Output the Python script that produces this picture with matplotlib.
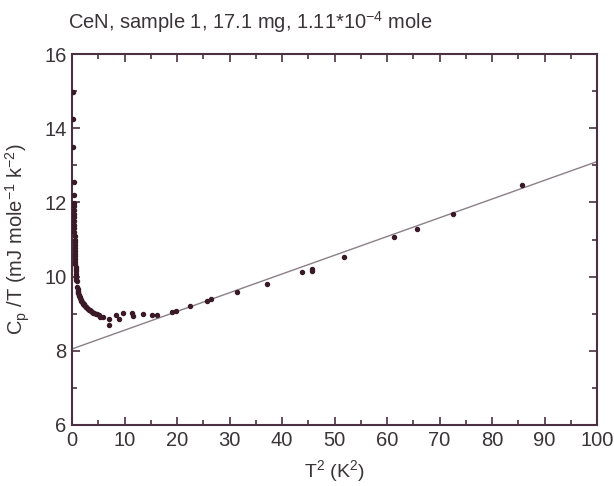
import matplotlib
matplotlib.use("Agg")
import matplotlib.pyplot as plt
from matplotlib.ticker import MultipleLocator
import numpy as np

plt.rcParams['font.family'] = ['Liberation Sans', 'DejaVu Sans']
plt.rcParams['mathtext.default'] = 'regular'

# Data: T^2 (K^2) and Cp/T (mJ mole^-1 K^-2)
t2_low = [0.12, 0.20, 0.25, 0.30, 0.33, 0.35, 0.37, 0.38, 0.40, 0.41, 0.42, 0.44, 0.45,
          0.46, 0.48, 0.50, 0.51, 0.53, 0.55, 0.56, 0.58, 0.60, 0.62, 0.64, 0.66, 0.68,
          0.70, 0.72, 0.74, 0.77, 0.80, 0.83, 0.86]
cp_low = [14.97, 14.25, 13.50, 12.55, 12.20, 11.98, 11.90, 11.80, 11.70, 11.60, 11.50,
          11.40, 11.30, 11.20, 11.10, 11.00, 10.92, 10.85, 10.78, 10.70, 10.62, 10.55,
          10.48, 10.40, 10.33, 10.27, 10.20, 10.14, 10.08, 10.02, 9.97, 9.92, 9.88]

t2_mid = [1.00, 1.05, 1.10, 1.15, 1.22, 1.30, 1.38, 1.45, 1.55, 1.62, 1.70, 1.80, 1.90,
          2.00, 2.10, 2.22, 2.35, 2.48, 2.60, 2.75, 2.90, 3.05, 3.20, 3.40, 3.60, 3.80,
          4.00, 4.25, 4.50, 4.80, 5.05]
cp_mid = [9.72, 9.66, 9.62, 9.58, 9.55, 9.50, 9.47, 9.44, 9.41, 9.38, 9.36, 9.34, 9.31,
          9.29, 9.27, 9.25, 9.23, 9.21, 9.19, 9.17, 9.15, 9.13, 9.11, 9.09, 9.07, 9.05,
          9.03, 9.01, 9.00, 8.98, 8.96]

t2_high = [5.3, 5.9, 7.0, 7.1, 8.3, 9.0, 9.8, 11.5, 11.7, 13.6, 15.2, 16.1, 19.0, 19.9,
           22.5, 25.7, 26.5, 31.4, 37.1, 43.8, 45.7, 45.7, 51.9, 61.3, 65.7, 72.5, 85.7]
cp_high = [8.92, 8.90, 8.70, 8.86, 8.96, 8.86, 9.03, 9.03, 8.94, 8.98, 8.96, 8.96, 9.04,
           9.08, 9.21, 9.34, 9.39, 9.59, 9.79, 10.12, 10.16, 10.20, 10.54, 11.07, 11.27,
           11.68, 12.48]

# Linear fit line Cp/T = gamma + beta*T^2
fit_gamma = 8.05
fit_beta = 0.0505
fit_x = [0, 100]

t2 = np.array(t2_low + t2_mid + t2_high)
cp = np.array(cp_low + cp_mid + cp_high)

fig = plt.figure(figsize=(6.14, 4.86), dpi=100)
ax = fig.add_axes([72/614, 1-425/486, (597-72)/614, (425-54)/486])

axcol = '#4a3040'
txtcol = '#3a3438'

fx = np.array(fit_x, dtype=float)
ax.plot(fx, fit_gamma + fit_beta*fx, color='#8c7f88', lw=1.0, zorder=2)
ax.plot(t2, cp, 'o', ms=2.9, color='#3a1a26', mec='#3a1a26', zorder=3)

ax.set_xlim(0, 100)
ax.set_ylim(6, 16)
ax.xaxis.set_major_locator(MultipleLocator(10))
ax.xaxis.set_minor_locator(MultipleLocator(5))
ax.yaxis.set_major_locator(MultipleLocator(2))
ax.yaxis.set_minor_locator(MultipleLocator(1))
ax.tick_params(which='both', direction='in', top=True, right=True, color=axcol,
               width=1.2, labelcolor=txtcol, labelsize=14.5, pad=4)
ax.tick_params(which='major', length=6)
ax.tick_params(which='minor', length=3.5)
for s in ax.spines.values():
    s.set_color(axcol)
    s.set_linewidth(1.5)

ax.set_xlabel('T$^2$ (K$^2$)', fontsize=14, color=txtcol, labelpad=6)
ax.set_ylabel('C$_p$ /T (mJ mole$^{-1}$ k$^{-2}$)', fontsize=14.5, color=txtcol)
ax.yaxis.set_label_coords(-0.076, 0.5)
fig.text(68/614, 1-22/486, 'CeN, sample 1, 17.1 mg, 1.11*10$^{-4}$ mole', fontsize=14.5,
         color=txtcol, ha='left', va='center')

fig.savefig('out.png', dpi=100, facecolor='white')
